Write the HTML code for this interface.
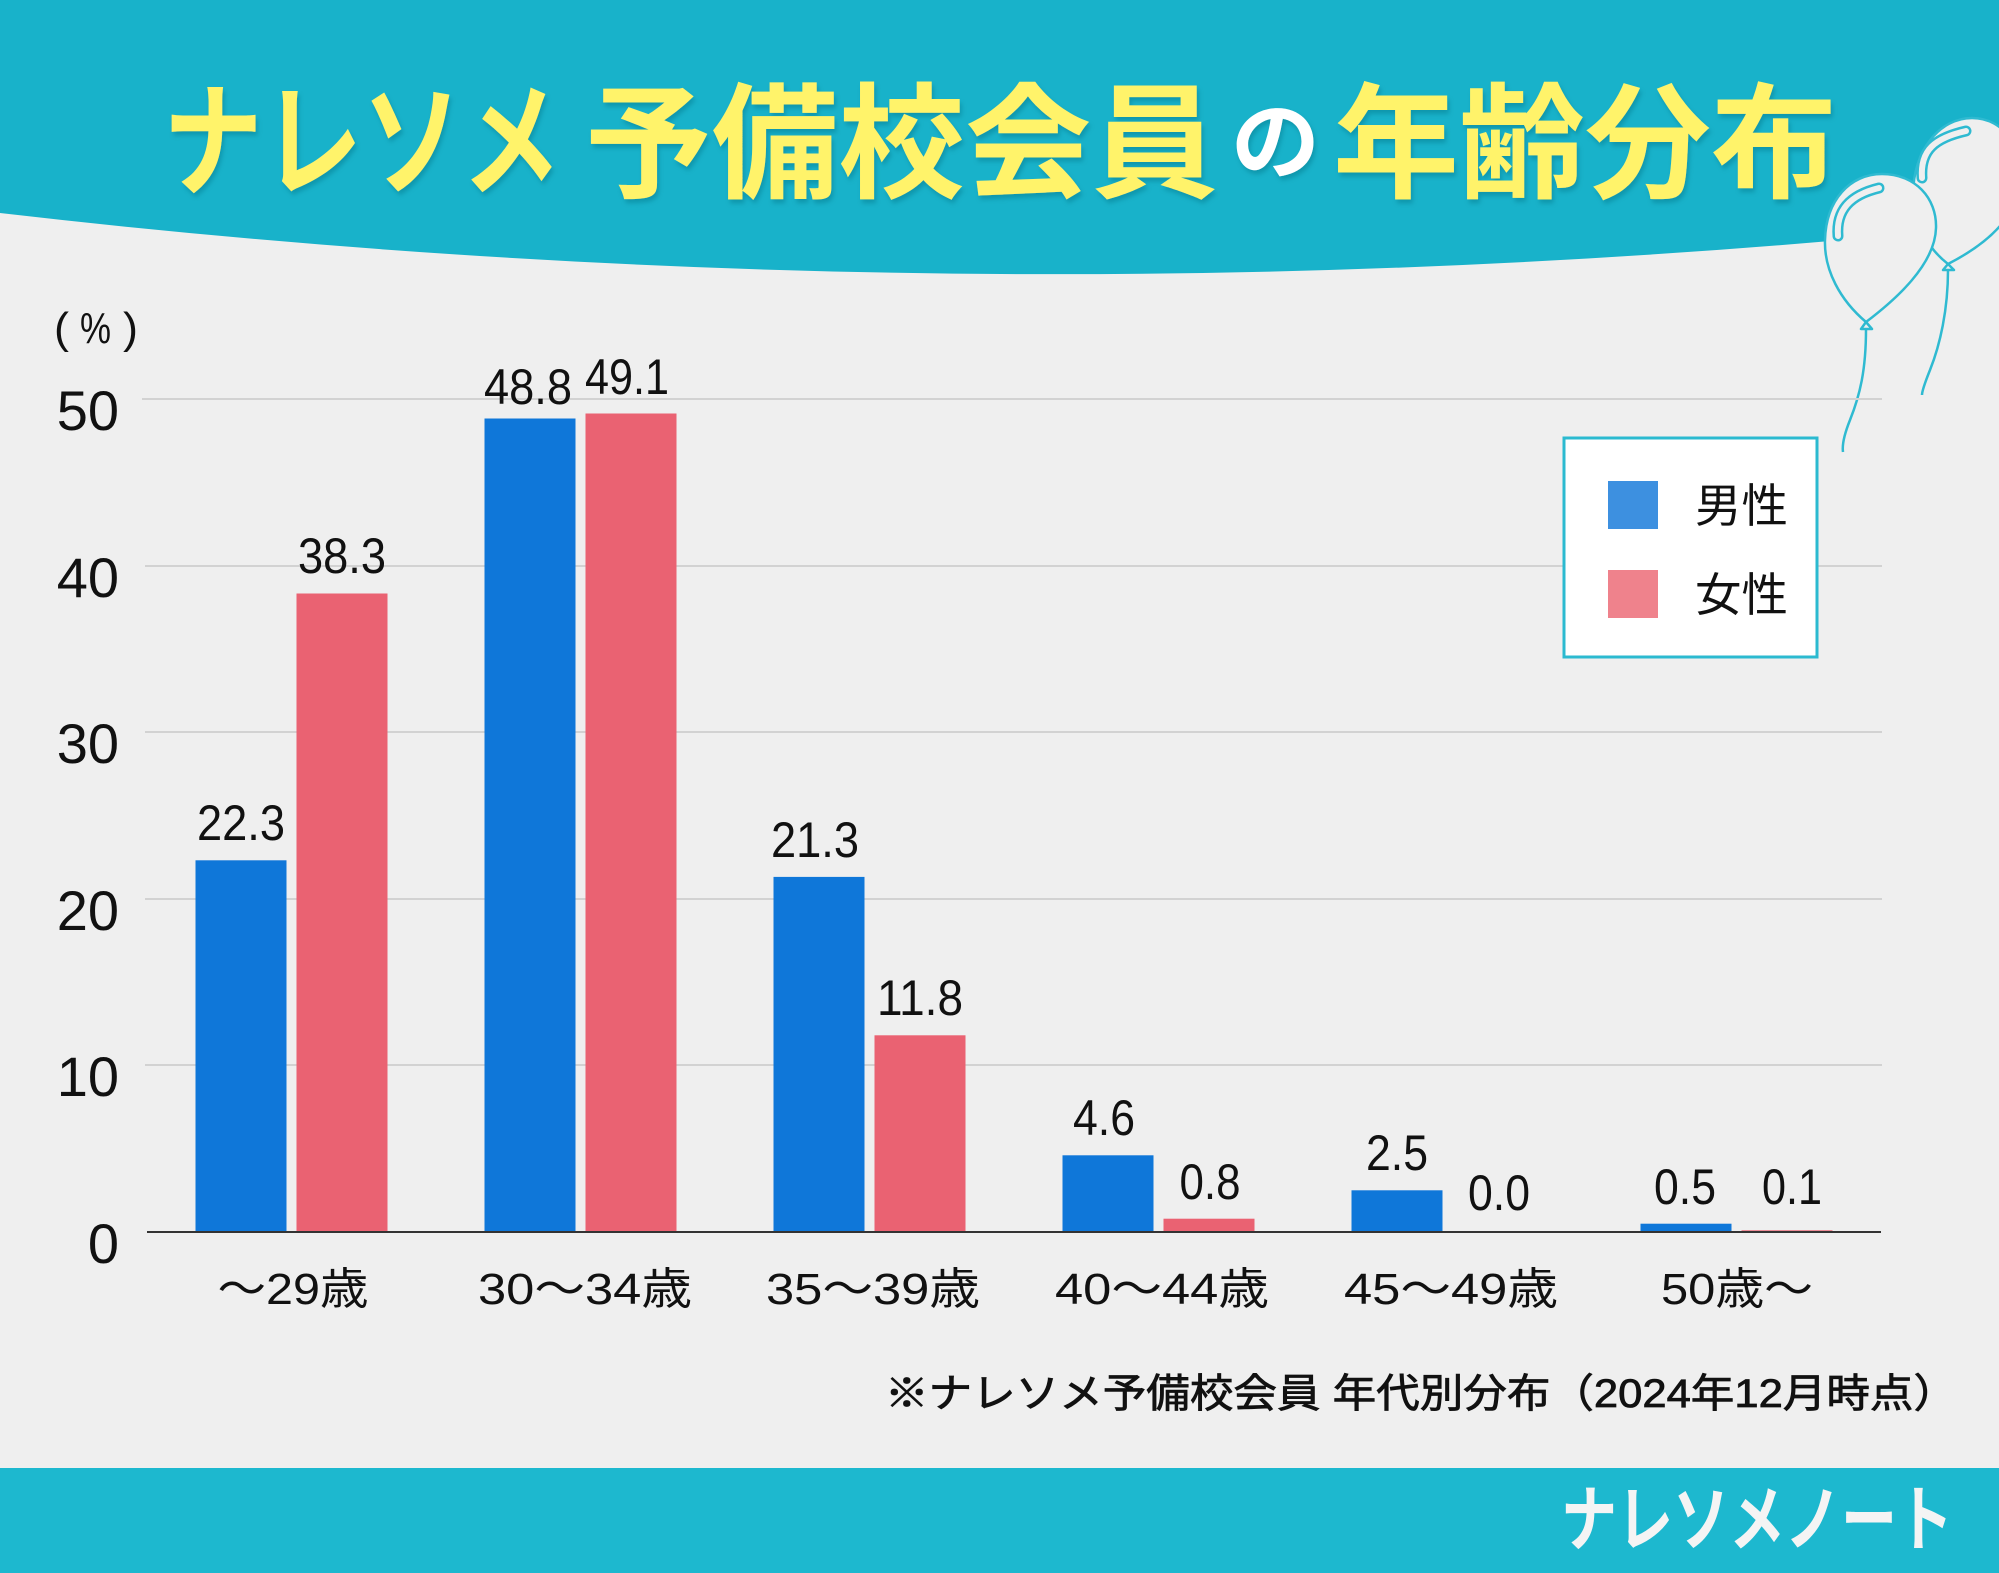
<!DOCTYPE html>
<html><head><meta charset="utf-8"><style>
html,body{margin:0;padding:0;background:#efefef;}
svg{display:block;}
</style></head><body>
<svg width="1999" height="1573" viewBox="0 0 1999 1573" xmlns="http://www.w3.org/2000/svg" font-family="'Liberation Sans','Noto Sans CJK JP',sans-serif">
<defs>
<filter id="sh" x="-5%" y="-20%" width="110%" height="150%">
<feDropShadow dx="2" dy="4" stdDeviation="2.5" flood-color="#0a6e80" flood-opacity="0.4"/>
</filter>
</defs>
<rect width="1999" height="1573" fill="#efefef"/>
<!-- header -->
<path d="M0,0 H1999 V225 Q1000,329 0,213 Z" fill="#18b2ca"/>
<!-- title -->
<g filter="url(#sh)" font-family="'Liberation Sans','Noto Sans CJK JP',sans-serif" font-weight="700">
<text x="163" y="186" font-size="125" fill="#fff36b" textLength="398" lengthAdjust="spacingAndGlyphs">ナレソメ</text>
<text x="585" y="188" font-size="125" fill="#fff36b" textLength="633" lengthAdjust="spacingAndGlyphs">予備校会員</text>
<text x="1231" y="172" font-size="86" fill="#ffffff" textLength="89" lengthAdjust="spacingAndGlyphs">の</text>
<text x="1333" y="188" font-size="125" fill="#fff36b" textLength="504" lengthAdjust="spacingAndGlyphs">年齢分布</text>
</g>
<!-- balloons -->
<g fill="#efefef" stroke="#2fbad1" stroke-width="2.5" stroke-linejoin="round">
<path d="M1948,264 C1930,250 1913,225 1913,195 C1913,150 1940,118 1972,118 C2005,118 2025,150 2020,185 C2015,220 1985,245 1948,264 Z"/>
<path d="M1948,264 L1943,270 L1954,270 Z"/>
<path d="M1948,270 C1948,310 1940,345 1930,370 C1924,385 1922,393 1922,395" fill="none"/>
<path d="M1922,178 C1920,150 1935,138 1966,131" fill="none" stroke-width="11" stroke-linecap="round"/>
<path d="M1922,178 C1920,150 1935,138 1966,131" fill="none" stroke="#efefef" stroke-width="6" stroke-linecap="round"/>
<path d="M1866,322 C1840,300 1824,270 1825,240 C1826,200 1850,174 1882,174 C1915,174 1937,198 1936,228 C1935,265 1895,300 1866,322 Z"/>
<path d="M1866,322 L1861,329 L1872,329 Z"/>
<path d="M1866,329 C1866,370 1860,395 1850,420 C1844,435 1842,445 1843,452" fill="none"/>
<path d="M1838,236 C1836,210 1850,195 1879,188" fill="none" stroke-width="11" stroke-linecap="round"/>
<path d="M1838,236 C1836,210 1850,195 1879,188" fill="none" stroke="#efefef" stroke-width="6" stroke-linecap="round"/>
</g>
<!-- gridlines -->
<g stroke="#d2d2d2" stroke-width="2">
<line x1="142" y1="399" x2="1882" y2="399"/>
<line x1="145" y1="566" x2="1882" y2="566"/>
<line x1="145" y1="732" x2="1882" y2="732"/>
<line x1="145" y1="899" x2="1882" y2="899"/>
<line x1="145" y1="1065" x2="1882" y2="1065"/>
</g>
<!-- y labels -->
<g font-size="56" fill="#111" text-anchor="end">
<text x="119" y="430">50</text>
<text x="119" y="597">40</text>
<text x="119" y="763">30</text>
<text x="119" y="930">20</text>
<text x="119" y="1096">10</text>
<text x="119" y="1263">0</text>
</g>
<g font-size="44" fill="#111">
<text x="54" y="343" textLength="15" lengthAdjust="spacingAndGlyphs">(</text>
<text x="80" y="343" textLength="31" lengthAdjust="spacingAndGlyphs">%</text>
<text x="123" y="343" textLength="15" lengthAdjust="spacingAndGlyphs">)</text>
</g>
<!-- bars -->
<g fill="#0f77d9">
<rect x="195.5" y="860.3" width="91" height="371.7"/>
<rect x="484.5" y="418.5" width="91" height="813.5"/>
<rect x="773.5" y="876.9" width="91" height="355.1"/>
<rect x="1062.5" y="1155.3" width="91" height="76.7"/>
<rect x="1351.5" y="1190.3" width="91" height="41.7"/>
<rect x="1640.5" y="1223.7" width="91" height="8.3"/>
</g>
<g fill="#ea6272">
<rect x="296.5" y="593.5" width="91" height="638.5"/>
<rect x="585.5" y="413.5" width="91" height="818.5"/>
<rect x="874.5" y="1035.3" width="91" height="196.7"/>
<rect x="1163.5" y="1218.7" width="91" height="13.3"/>
<rect x="1741.5" y="1230.3" width="91" height="1.7"/>
</g>
<line x1="147" y1="1232" x2="1881" y2="1232" stroke="#333" stroke-width="2"/>
<!-- data labels -->
<g font-size="50" fill="#111" text-anchor="middle">
<text x="241" y="840" textLength="88" lengthAdjust="spacingAndGlyphs">22.3</text>
<text x="342" y="573" textLength="88" lengthAdjust="spacingAndGlyphs">38.3</text>
<text x="528" y="404" textLength="88" lengthAdjust="spacingAndGlyphs">48.8</text>
<text x="627" y="394" textLength="84" lengthAdjust="spacingAndGlyphs">49.1</text>
<text x="815" y="857" textLength="88" lengthAdjust="spacingAndGlyphs">21.3</text>
<text x="920" y="1015" textLength="86" lengthAdjust="spacingAndGlyphs">11.8</text>
<text x="1104" y="1135" textLength="62" lengthAdjust="spacingAndGlyphs">4.6</text>
<text x="1210" y="1199" textLength="61" lengthAdjust="spacingAndGlyphs">0.8</text>
<text x="1397" y="1170" textLength="62" lengthAdjust="spacingAndGlyphs">2.5</text>
<text x="1499" y="1210" textLength="62" lengthAdjust="spacingAndGlyphs">0.0</text>
<text x="1685" y="1204" textLength="62" lengthAdjust="spacingAndGlyphs">0.5</text>
<text x="1792" y="1204" textLength="60" lengthAdjust="spacingAndGlyphs">0.1</text>
</g>
<!-- x labels -->
<g font-size="44" fill="#111" text-anchor="middle">
<text x="293" y="1304" textLength="151" lengthAdjust="spacingAndGlyphs">～29歳</text>
<text x="585" y="1304" textLength="214" lengthAdjust="spacingAndGlyphs">30～34歳</text>
<text x="873" y="1304" textLength="214" lengthAdjust="spacingAndGlyphs">35～39歳</text>
<text x="1162" y="1304" textLength="214" lengthAdjust="spacingAndGlyphs">40～44歳</text>
<text x="1451" y="1304" textLength="214" lengthAdjust="spacingAndGlyphs">45～49歳</text>
<text x="1737" y="1304" textLength="152" lengthAdjust="spacingAndGlyphs">50歳～</text>
</g>
<!-- legend -->
<rect x="1564" y="438" width="253" height="219" fill="#ffffff" stroke="#2bbad0" stroke-width="3"/>
<rect x="1608" y="481" width="50" height="48" fill="#3d90e0"/>
<rect x="1608" y="570" width="50" height="48" fill="#ef828c"/>
<text x="1695" y="522" font-size="46" fill="#111" textLength="93" lengthAdjust="spacingAndGlyphs">男性</text>
<text x="1695" y="611" font-size="46" fill="#111" textLength="93" lengthAdjust="spacingAndGlyphs">女性</text>
<!-- footnote -->
<text x="885" y="1407" font-size="40" fill="#111" stroke="#111" stroke-width="0.8" textLength="1072" lengthAdjust="spacingAndGlyphs">※ナレソメ予備校会員 年代別分布（2024年12月時点）</text>
<!-- bottom band -->
<rect x="0" y="1468" width="1999" height="105" fill="#1db8cf"/>
<text x="1561" y="1545" font-size="72" fill="#f4f4f4" font-weight="700" textLength="392" lengthAdjust="spacingAndGlyphs">ナレソメノート</text>
</svg>
</body></html>
